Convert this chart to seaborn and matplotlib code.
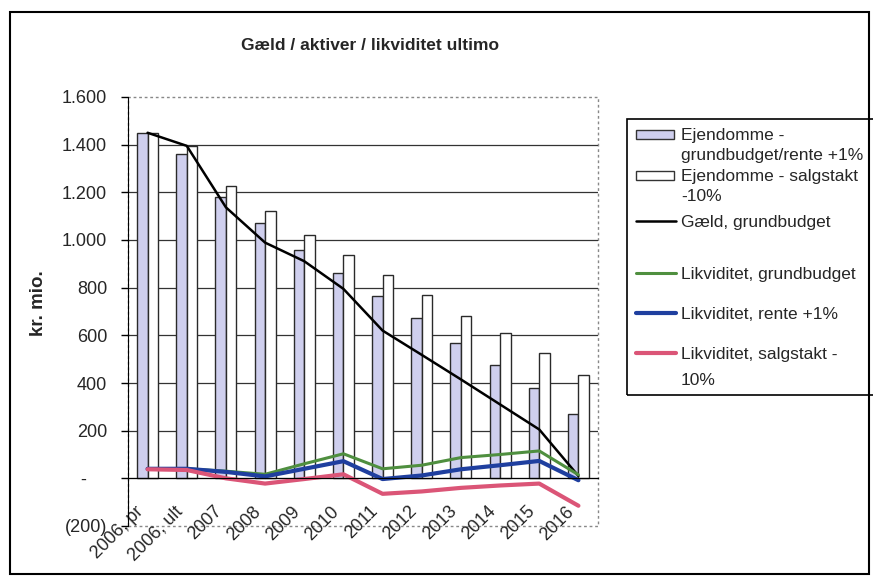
import numpy as np
import pandas as pd
import matplotlib
matplotlib.use("Agg")
import matplotlib.pyplot as plt
import seaborn as sns
from matplotlib.patches import Rectangle
from matplotlib.lines import Line2D
from matplotlib.ticker import FuncFormatter
from matplotlib.transforms import ScaledTranslation

# ── Data (kr. mio.) ─────────────────────────────────────────────────────────
kategorier = ["2006, pr", "2006, ult", "2007", "2008", "2009", "2010",
              "2011", "2012", "2013", "2014", "2015", "2016"]
ejd_grund = [1447, 1360, 1180, 1072, 960, 862, 763, 673, 567, 476, 378, 272]
ejd_salg = [1447, 1395, 1227, 1121, 1023, 935, 855, 770, 682, 609, 525, 434]
gaeld = [1450, 1395, 1137, 989, 911, 795, 620, 518, 415, 310, 205, 10]
likv_grund = [40, 40, 30, 17, 61, 103, 40, 55, 87, 100, 115, 15]
likv_rente = [40, 40, 27, 8, 40, 72, -3, 12, 38, 55, 73, -8]
likv_salg = [38, 35, 0, -22, -3, 17, -65, -55, -40, -30, -22, -115]

navne_bar = ["Ejendomme - grundbudget/rente +1%", "Ejendomme - salgstakt -10%"]

LILLA = "#cfcfee"
GROEN = "#4f8f3f"
BLAA = "#1f3f9f"
ROED = "#db5577"

W, H = 873, 576
sns.set_style("white")
plt.rcParams["font.family"] = ["Liberation Sans", "DejaVu Sans"]


def fx(x):
    return x / W


def fy(y):
    return 1 - y / H


fig = plt.figure(figsize=(W / 100, H / 100), dpi=100)
ax = fig.add_axes([fx(128), fy(526), 470 / W, 429 / H])

# ── Bars ────────────────────────────────────────────────────────────────────
bars = pd.DataFrame({
    "kat": kategorier * 2,
    "mio": ejd_grund + ejd_salg,
    "serie": [navne_bar[0]] * len(kategorier) + [navne_bar[1]] * len(kategorier),
})
sns.barplot(data=bars, x="kat", y="mio", hue="serie", palette=[LILLA, "white"],
            width=0.54, saturation=1, edgecolor="#2a2a2a", linewidth=1,
            legend=False, ax=ax)

# ── Lines ───────────────────────────────────────────────────────────────────
xpos = np.arange(len(kategorier))
linjer = [(gaeld, "black", 1.8), (likv_grund, GROEN, 2.2),
          (likv_rente, BLAA, 3.0), (likv_salg, ROED, 3.0)]
for serie, farve, lw in linjer:
    sns.lineplot(x=xpos, y=serie, color=farve, lw=lw, ax=ax)

# ── Axes styling ────────────────────────────────────────────────────────────
ax.set_xlim(-0.5, len(kategorier) - 0.5)
ax.set_ylim(-200, 1600)
ax.set_yticks(range(-200, 1601, 200))


def kr_fmt(v, pos):
    if v == 0:
        return "-    "
    if v < 0:
        return f"({abs(v):,.0f})".replace(",", ".")
    return f"{v:,.0f}".replace(",", ".")


ax.yaxis.set_major_formatter(FuncFormatter(kr_fmt))
ax.yaxis.grid(True, color="#333333", lw=0.9)
ax.set_axisbelow(True)
for gl in (ax.get_ygridlines()[0], ax.get_ygridlines()[-1]):
    gl.set_visible(False)

for s in ("top", "right"):
    ax.spines[s].set_visible(False)
ax.spines["bottom"].set_position(("data", 0))
ax.spines["bottom"].set_color("black")
ax.spines["left"].set_color("black")
ax.add_patch(Rectangle((0, 0), 1, 1, transform=ax.transAxes, fill=False,
                       ec="#888888", lw=1, ls=(0, (2, 2)), clip_on=False, zorder=0))

ax.set_xticks(xpos)
ax.set_xticklabels(kategorier)
ax.set_xticks(np.arange(-0.5, len(kategorier), 1), minor=True)
ax.tick_params(axis="x", which="major", length=0, pad=22, labelsize=13)
ax.tick_params(axis="x", which="minor", length=4, width=1, direction="out", color="#333333")
ax.tick_params(axis="y", length=5, width=1, pad=10, labelsize=13, left=True, color="black")
skift = ScaledTranslation(-7 / 100, 0, fig.dpi_scale_trans)
for lab in ax.get_xticklabels():
    lab.set_rotation(45)
    lab.set_ha("right")
    lab.set_va("center")
    lab.set_rotation_mode("anchor")
    lab.set_transform(lab.get_transform() + skift)

ax.set_xlabel("")
ax.set_ylabel("kr. mio.", fontsize=13.5, fontweight="bold")
ax.yaxis.set_label_coords(-0.172, 0.52)

# ── Title and frame ─────────────────────────────────────────────────────────
fig.text(fx(370), fy(45), "Gæld / aktiver / likviditet ultimo",
         fontsize=12.5, fontweight="bold", ha="center", va="center")
fig.patches.append(Rectangle((fx(10), fy(574)), (869 - 10) / W, (574 - 12) / H,
                             transform=fig.transFigure, fill=False, ec="black", lw=1.5))

# ── Legend (Excel-like spacing) ─────────────────────────────────────────────
fig.patches.append(Rectangle((fx(627), fy(395)), (880 - 627) / W, (395 - 119) / H,
                             transform=fig.transFigure, fill=False, ec="black", lw=1.2))
leg = [
    ("rect", LILLA, 1, ["Ejendomme -", "grundbudget/rente +1%"], 134, 20),
    ("rect", "white", 1, ["Ejendomme - salgstakt", "-10%"], 175, 20),
    ("line", "black", 1.8, ["Gæld, grundbudget"], 221, 20),
    ("line", GROEN, 2.2, ["Likviditet, grundbudget"], 273, 20),
    ("line", BLAA, 3.0, ["Likviditet, rente +1%"], 313, 20),
    ("line", ROED, 3.0, ["Likviditet, salgstakt -", "10%"], 353, 26),
]
for kind, farve, lw, linjer_tekst, yc, lh in leg:
    if kind == "rect":
        fig.patches.append(Rectangle((fx(636), fy(yc + 4.5)), 38 / W, 9 / H,
                                     transform=fig.transFigure, fc=farve,
                                     ec="#333333", lw=1))
    else:
        fig.lines.append(Line2D([fx(636), fx(676)], [fy(yc), fy(yc)],
                                transform=fig.transFigure, color=farve, lw=lw))
    for i, t in enumerate(linjer_tekst):
        fig.text(fx(681), fy(yc + 6 + i * lh), t, fontsize=12.5, ha="left",
                 va="baseline")

fig.savefig("out.png", dpi=100, facecolor="white")
